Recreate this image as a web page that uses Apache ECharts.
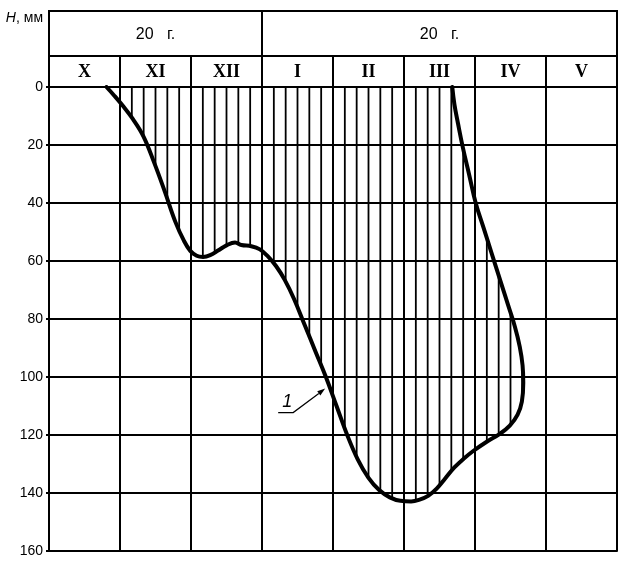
<!DOCTYPE html>
<html><head><meta charset="utf-8">
<script src="https://cdn.jsdelivr.net/npm/echarts@6/dist/echarts.min.js"></script>
<style>html,body{margin:0;padding:0;background:#fff}#c{width:627px;height:564px}</style>
</head><body><div id="c"></div>
<script>
// ---- data ----
const months = ['X', 'XI', 'XII', 'I', 'II', 'III', 'IV', 'V'];
const yearLabels = ['20   г.', '20   г.'];
const yearFrom = [0, 3];
const yearTo = [3, 8];
const yTicks = [0, 20, 40, 60, 80, 100, 120, 140, 160];
// boundary of frozen layer: month position (0 = start of X) and depth H, мм
const curveMonth = [0.81, 0.92, 1.04, 1.18, 1.33, 1.48, 1.63, 1.78, 1.9, 1.99, 2.08, 2.17, 2.27, 2.38, 2.5, 2.62, 2.71, 2.85, 2.97, 3.08, 3.2, 3.32, 3.45, 3.6, 3.75, 3.9, 4.05, 4.2, 4.35, 4.5, 4.65, 4.8, 4.95, 5.1, 5.22, 5.34, 5.46, 5.58, 5.71, 5.84, 5.97, 6.16, 6.35, 6.49, 6.6, 6.66, 6.68, 6.67, 6.63, 6.56, 6.47, 6.36, 6.23, 6.12, 6.01, 5.92, 5.83, 5.76, 5.71, 5.68];
const curveDepth = [0, 3, 6.5, 11, 17, 26, 36, 46.5, 53, 56.5, 58.2, 58.6, 58, 56.4, 54.6, 53.6, 54.5, 54.9, 56, 58.3, 61.8, 66.5, 73, 82, 91, 100, 110, 120, 128.5, 134.8, 139, 141.5, 142.7, 142.9, 142.3, 141, 138.5, 135, 131.2, 128.2, 125.6, 122.4, 119.6, 116.8, 113, 108.5, 102, 96, 89.5, 82.5, 75.5, 67, 57, 48.5, 40, 30.5, 21, 12.5, 6, 0];
const annotLabel = '1';
const annotMonth = 3.89;
const annotDepth = 104;
const hatchPerMonth = 6;

// ---- chart ----
const chart = echarts.init(document.getElementById('c'), null, {renderer: 'canvas'});
const black = '#000';
const sans = 'Liberation Sans, Arial, sans-serif';
const serif = 'Liberation Serif, Times New Roman, serif';

function cellRender(fontSize, fontFamily, fontWeight) {
  return function (params, api) {
    const p0 = api.coord([api.value(0), 0]);
    const p1 = api.coord([api.value(1), 1]);
    const x = Math.min(p0[0], p1[0]), y = Math.min(p0[1], p1[1]);
    const w = Math.abs(p1[0] - p0[0]), h = Math.abs(p1[1] - p0[1]);
    return {
      type: 'group',
      children: [
        {type: 'rect', shape: {x: x, y: y, width: w, height: h},
          style: {fill: 'none', stroke: black, lineWidth: 2}},
        {type: 'text', x: x + w / 2, y: y + h / 2 + 1,
          style: {text: api.value(2), align: 'center', verticalAlign: 'middle',
            fontSize: fontSize, fontFamily: fontFamily, fontWeight: fontWeight, fill: black}}
      ]
    };
  };
}

const option = {
  animation: false,
  backgroundColor: '#fff',
  grid: [
    {left: 49, right: 10, top: 87, bottom: 13},
    {left: 49, right: 10, top: 11, height: 45},
    {left: 49, right: 10, top: 56, height: 31}
  ],
  xAxis: [
    {gridIndex: 0, type: 'value', min: 0, max: months.length, interval: 1,
      axisLabel: {show: false}, axisTick: {show: false},
      axisLine: {show: true, onZero: false, lineStyle: {color: black, width: 2}},
      splitLine: {show: true, lineStyle: {color: black, width: 2}}},
    {gridIndex: 1, type: 'value', min: 0, max: months.length, show: false},
    {gridIndex: 2, type: 'value', min: 0, max: months.length, show: false}
  ],
  yAxis: [
    {gridIndex: 0, type: 'value', inverse: true, min: yTicks[0], max: yTicks[yTicks.length - 1],
      interval: yTicks[1] - yTicks[0],
      axisLabel: {color: black, fontSize: 14, fontFamily: sans, margin: 6},
      axisTick: {show: true, length: 3, lineStyle: {color: black, width: 2}},
      axisLine: {show: true, onZero: false, lineStyle: {color: black, width: 2}},
      splitLine: {show: true, lineStyle: {color: black, width: 2}}},
    {gridIndex: 1, type: 'value', min: 0, max: 1, show: false},
    {gridIndex: 2, type: 'value', min: 0, max: 1, show: false}
  ],
  graphic: [
    {type: 'text', x: 43, y: 18,
      style: {text: '{i|H}, мм', align: 'right', verticalAlign: 'middle',
        fontSize: 14, fontFamily: sans, fill: black,
        rich: {i: {fontStyle: 'italic', fontSize: 14, fontFamily: sans, fill: black}}}}
  ],
  series: [
    {
      type: 'custom', xAxisIndex: 0, yAxisIndex: 0, z: 3, silent: true,
      data: [[0, 0]],
      renderItem: function (params, api) {
        const pts = curveMonth.map((m, i) => api.coord([m, curveDepth[i]]));
        const n = pts.length;
        const children = [];
        for (let k = 0; k <= months.length * hatchPerMonth; k++) {
          const px = api.coord([k / hatchPerMonth, 0])[0];
          const ys = [];
          for (let i = 0; i < n; i++) {
            const a = pts[i], b = pts[(i + 1) % n];
            if ((a[0] <= px && b[0] > px) || (b[0] <= px && a[0] > px)) {
              const t = (px - a[0]) / (b[0] - a[0]);
              ys.push(a[1] + t * (b[1] - a[1]));
            }
          }
          ys.sort((p, q) => p - q);
          for (let j = 0; j + 1 < ys.length; j += 2) {
            children.push({type: 'line', shape: {x1: px, y1: ys[j], x2: px, y2: ys[j + 1]},
              style: {stroke: black, lineWidth: 1.8}});
          }
        }
        return {type: 'group', children: children};
      }
    },
    {
      type: 'line', xAxisIndex: 0, yAxisIndex: 0, z: 5, silent: true,
      data: curveMonth.map((m, i) => [m, curveDepth[i]]),
      smooth: 0.4, symbol: 'none',
      lineStyle: {color: black, width: 4, cap: 'round', join: 'round'}
    },
    {
      type: 'custom', xAxisIndex: 1, yAxisIndex: 1, z: 4, silent: true,
      data: yearLabels.map((l, i) => [yearFrom[i], yearTo[i], l]),
      renderItem: cellRender(16, sans, 'normal')
    },
    {
      type: 'custom', xAxisIndex: 2, yAxisIndex: 2, z: 4, silent: true,
      data: months.map((m, i) => [i, i + 1, m]),
      renderItem: cellRender(18, serif, 'bold')
    },
    {
      type: 'custom', xAxisIndex: 0, yAxisIndex: 0, z: 6, silent: true,
      data: [[annotMonth, annotDepth, annotLabel]],
      renderItem: function (params, api) {
        const tip = api.coord([api.value(0), api.value(1)]);
        const elbow = [tip[0] - 32, tip[1] + 24];
        const start = [elbow[0] - 15, elbow[1]];
        const dx = tip[0] - elbow[0], dy = tip[1] - elbow[1];
        const len = Math.sqrt(dx * dx + dy * dy);
        const ux = dx / len, uy = dy / len;
        const al = 8, aw = 2.6;
        const base = [tip[0] - ux * al, tip[1] - uy * al];
        return {
          type: 'group',
          children: [
            {type: 'polyline', shape: {points: [start, elbow, base]},
              style: {stroke: black, lineWidth: 1.2, fill: 'none'}},
            {type: 'polygon', shape: {points: [tip,
              [base[0] - uy * aw, base[1] + ux * aw], [base[0] + uy * aw, base[1] - ux * aw]]},
              style: {fill: black}},
            {type: 'text', x: tip[0] - 38, y: tip[1] + 13,
              style: {text: api.value(2), align: 'center', verticalAlign: 'middle',
                fontSize: 18, fontStyle: 'italic', fontFamily: sans, fill: black}}
          ]
        };
      }
    }
  ]
};
chart.setOption(option);
</script>
</body></html>
